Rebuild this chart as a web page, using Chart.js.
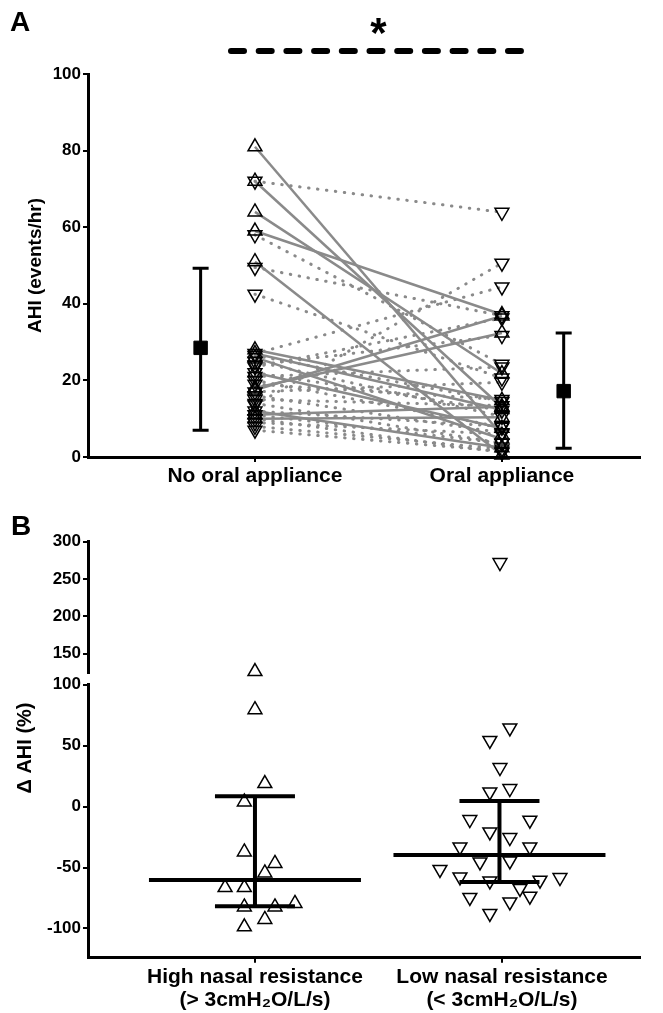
<!DOCTYPE html>
<html>
<head>
<meta charset="utf-8">
<script src="https://cdn.jsdelivr.net/npm/chart.js@4.4.1/dist/chart.umd.min.js"></script>
<style>
  body { margin: 0; background: #fff; }
  #wrap { position: relative; width: 663px; height: 1013px; }
  canvas { position: absolute; left: 0; }
</style>
</head>
<body>
<div id="wrap">
  <canvas id="chartA" width="663" height="520" style="top:0"></canvas>
  <canvas id="chartBTop" width="663" height="195" style="top:495px"></canvas>
  <canvas id="chartBBottom" width="663" height="353" style="top:660px"></canvas>
</div>
<script>
// ---- data ----
const groupsA = ['No oral appliance', 'Oral appliance'];
const groupsB = [['High nasal resistance', '(> 3cmH₂O/L/s)'], ['Low nasal resistance', '(< 3cmH₂O/L/s)']];

// Panel A: high nasal resistance subjects (solid lines, up triangles)
const highBefore = [81, 72, 64, 59, 51, 28, 27, 26, 22, 18, 17.5, 12, 11, 10];
const highAfter  = [5.7, 13.0, 21.8, 37.2, 0.5, 14.8, 12.4, 4.7, 7.5, 32.4, 36.8, 2.4, 13.1, 10.4];
// Panel A: low nasal resistance subjects (dotted lines, down triangles)
const lowBefore = [72, 58, 49.5, 42.5, 27, 26.5, 25, 24, 23.5, 22, 21, 20, 19, 17, 16, 15, 14, 13.6, 12, 11, 10, 9, 8, 7];
const lowAfter  = [63.9, 24.2, 36.9, 20.6, 44.4, 14.5, 10.6, 31.7, 36.3, 12.2, 23.5, 7.8, 15.0, 19.5, 6.3, 13.4, 3.6, 50.6, 8.0, 3.6, 1.2, 6.0, 2.1, 1.5];

// Panel A mean +/- SD
const summaryXA = [-0.22, 1.25];
const meanA = [28.5, 17.2];
const sdHighA = [49.3, 32.4];
const sdLowA = [7.0, 2.3];

// Panel B: change in AHI (%)
const deltaHigh = [79.5, 18.9, 3.8, -37.2, -46.7, -54.4, -66.4, -66.4, -82.3, -82.3, -79.5, -92.6, -98.7];
const xHigh     = [0, 0.04, -0.043, -0.043, 0.081, 0.04, -0.121, -0.043, -0.043, 0.081, 0.162, 0.04, -0.043];
const deltaHighOutlier = [126];
const xHighOutlier = [0];
const deltaLow  = [64.5, 54.3, 32.0, 12.0, 14.8, -10.7, -11.2, -20.8, -25.4, -33.1, -33.1, -45.4, -44.6, -51.6,
                   -57.7, -61.0, -60.4, -58.2, -67.2, -74.6, -73.5, -78.2, -87.7];
const xLow      = [1.032, 0.951, 0.992, 0.951, 1.032, 0.870, 1.113, 0.951, 1.032, 0.830, 1.113, 0.911, 1.032, 0.749,
                   0.830, 0.951, 1.154, 1.235, 1.073, 0.870, 1.113, 1.032, 0.951];
const deltaLowOutlier = [272];
const xLowOutlier = [0.992];

// Panel B median with interquartile range
const summaryXB = [0, 0.99];
const medianB = [-60.3, -39.7];
const q3B = [8.4, 4.6];
const q1B = [-81.7, -61.8];

const ticksA = [0, 20, 40, 60, 80, 100];
const ticksBTop = [150, 200, 250, 300];
const ticksBBottom = [-100, -50, 0, 50, 100];

// ---- helpers ----
Chart.defaults.font.family = '"Liberation Sans", Arial, sans-serif';
Chart.defaults.color = '#000';

const errorBars = {
  id: 'errorBars',
  afterDatasetsDraw(chart, args, opts) {
    if (!opts.items) return;
    const { ctx, scales: { x, y } } = chart;
    ctx.save();
    ctx.strokeStyle = '#000';
    ctx.lineWidth = opts.lineWidth;
    opts.items.forEach(b => {
      const px = x.getPixelForValue(b.x);
      const hi = y.getPixelForValue(b.hi);
      const lo = y.getPixelForValue(b.lo);
      ctx.beginPath();
      ctx.moveTo(px, hi); ctx.lineTo(px, lo);
      ctx.moveTo(px - opts.cap, hi); ctx.lineTo(px + opts.cap, hi);
      ctx.moveTo(px - opts.cap, lo); ctx.lineTo(px + opts.cap, lo);
      if (b.mid !== undefined) {
        const pm = y.getPixelForValue(b.mid);
        ctx.moveTo(px - opts.mid, pm); ctx.lineTo(px + opts.mid, pm);
      }
      ctx.stroke();
    });
    ctx.restore();
  }
};

const textMarks = {
  id: 'textMarks',
  afterDraw(chart, args, opts) {
    if (!opts.items) return;
    const ctx = chart.ctx;
    opts.items.forEach(t => {
      let x = t.x, y = t.y;
      if (t.dataX !== undefined) {
        x = chart.scales.x.getPixelForValue(t.dataX);
        y = chart.scales.y.getPixelForValue(t.dataY);
      }
      ctx.save();
      ctx.font = t.font;
      ctx.fillStyle = '#000';
      ctx.textAlign = t.align || 'center';
      ctx.textBaseline = t.baseline || 'middle';
      ctx.translate(x, y);
      if (t.rotate) ctx.rotate(t.rotate);
      ctx.fillText(t.text, 0, 0);
      ctx.restore();
    });
  }
};

const tickFont = { size: 17, weight: 'bold' };
const catFont = { size: 21, weight: 'bold', lineHeight: 1.1 };

function yAxis(min, max, ticks) {
  return {
    min: min, max: max,
    afterBuildTicks: s => { s.ticks = ticks.map(v => ({ value: v })); },
    ticks: { font: tickFont, padding: 2, color: '#000' },
    grid: { drawOnChartArea: false, drawTicks: true, tickLength: 5, color: '#000', lineWidth: 2 },
    border: { display: true, color: '#000', width: 3 },
    afterFit: s => { s.width = 88; }
  };
}

function xAxis(labels, show, height) {
  return {
    type: 'linear', min: -0.676, max: 1.559, display: show,
    afterBuildTicks: s => { s.ticks = [{ value: 0 }, { value: 1 }]; },
    ticks: { callback: v => labels[v], font: catFont, padding: 3, maxRotation: 0, autoSkip: false, color: '#000' },
    grid: { drawOnChartArea: false, drawTicks: true, tickLength: 5, color: '#000', lineWidth: 2 },
    border: { display: true, color: '#000', width: 3 },
    afterFit: s => { s.height = height; }
  };
}

function baseOptions(padding) {
  return {
    responsive: false,
    animation: false,
    layout: { padding: padding },
    plugins: { legend: { display: false }, tooltip: { enabled: false } }
  };
}

function markers(points, rotation) {
  return {
    data: points, pointStyle: 'triangle', rotation: rotation, pointRadius: 8,
    pointBorderColor: '#000', pointBackgroundColor: 'rgba(0,0,0,0)', pointBorderWidth: 1.5,
    showLine: false, clip: false, order: 1
  };
}

// ---- Panel A ----
const datasetsA = [];
highBefore.forEach((v, i) => datasetsA.push({
  data: [{ x: 0, y: v }, { x: 1, y: highAfter[i] }], showLine: true,
  borderColor: '#8a8a8a', borderWidth: 2.5, pointRadius: 0, order: 3
}));
lowBefore.forEach((v, i) => datasetsA.push({
  data: [{ x: 0, y: v }, { x: 1, y: lowAfter[i] }], showLine: true,
  borderColor: '#8a8a8a', borderWidth: 3, borderDash: [0.5, 8.5], borderCapStyle: 'round',
  pointRadius: 0, order: 3
}));
datasetsA.push(markers(highBefore.map(v => ({ x: 0, y: v })).concat(highAfter.map(v => ({ x: 1, y: v }))), 0));
datasetsA.push(markers(lowBefore.map(v => ({ x: 0, y: v })).concat(lowAfter.map(v => ({ x: 1, y: v }))), 180));
datasetsA.push({
  data: summaryXA.map((x, i) => ({ x: x, y: meanA[i] })), pointStyle: 'rect', pointRadius: 9.5,
  pointBackgroundColor: '#000', pointBorderColor: '#000', showLine: false, order: 0
});
// significance bar
datasetsA.push({
  data: [{ x: -0.097, y: 106 }, { x: 1.077, y: 106 }], showLine: true, clip: false,
  borderColor: '#000', borderWidth: 6, borderDash: [13, 14.7], borderCapStyle: 'round', pointRadius: 0, order: 0
});

const optsA = baseOptions({ top: 74, right: 23, left: 0, bottom: 0 });
optsA.scales = { x: xAxis(groupsA, true, 63), y: yAxis(0, 100, ticksA) };
optsA.scales.y.title = {
  display: true, text: 'AHI (events/hr)', color: '#000',
  font: { size: 19, weight: 'bold' }, padding: { top: 24, bottom: 0 }
};
optsA.plugins.errorBars = {
  lineWidth: 3, cap: 8,
  items: summaryXA.map((x, i) => ({ x: x, hi: sdHighA[i], lo: sdLowA[i] }))
};
optsA.plugins.textMarks = {
  items: [
    { text: 'A', x: 10, y: 9, font: 'bold 28px "Liberation Sans", Arial', align: 'left', baseline: 'top' },
    { text: '*', dataX: 0.5, dataY: 110, font: 'bold 42px "Liberation Sans", Arial' }
  ]
};
new Chart(document.getElementById('chartA'), {
  type: 'scatter', data: { datasets: datasetsA }, options: optsA, plugins: [errorBars, textMarks]
});

// ---- Panel B, upper axis segment ----
const optsBTop = baseOptions({ top: 46.7, right: 23, left: 0, bottom: 17.3 });
optsBTop.scales = { x: xAxis(groupsB, false, 0), y: yAxis(124.4, 300, ticksBTop) };
optsBTop.plugins.textMarks = {
  items: [{ text: 'B', x: 11, y: 18, font: 'bold 28px "Liberation Sans", Arial', align: 'left', baseline: 'top' }]
};
new Chart(document.getElementById('chartBTop'), {
  type: 'scatter',
  data: {
    datasets: [
      markers(deltaHighOutlier.map((v, i) => ({ x: xHighOutlier[i], y: v })), 0),
      markers(deltaLowOutlier.map((v, i) => ({ x: xLowOutlier[i], y: v })), 180)
    ]
  },
  options: optsBTop, plugins: [textMarks]
});

// ---- Panel B, lower axis segment ----
const optsBBottom = baseOptions({ top: 24.7, right: 23, left: 0, bottom: 0 });
optsBBottom.scales = { x: xAxis(groupsB, true, 55.3), y: yAxis(-124, 100, ticksBBottom) };
optsBBottom.plugins.errorBars = {
  lineWidth: 4, cap: 40, mid: 106,
  items: summaryXB.map((x, i) => ({ x: x, mid: medianB[i], hi: q3B[i], lo: q1B[i] }))
};
optsBBottom.plugins.textMarks = {
  items: [{ text: 'Δ AHI (%)', x: 25, y: 88, rotate: -Math.PI / 2, font: 'bold 20px "Liberation Sans", Arial' }]
};
new Chart(document.getElementById('chartBBottom'), {
  type: 'scatter',
  data: {
    datasets: [
      markers(deltaHigh.map((v, i) => ({ x: xHigh[i], y: v })), 0),
      markers(deltaLow.map((v, i) => ({ x: xLow[i], y: v })), 180)
    ]
  },
  options: optsBBottom, plugins: [errorBars, textMarks]
});
</script>
</body>
</html>
